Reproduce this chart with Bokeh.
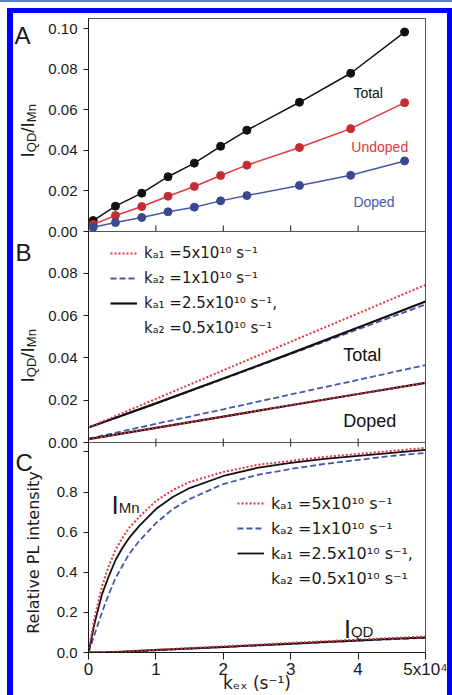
import math
from bokeh.plotting import figure
from bokeh.models import Range1d, FixedTicker, Label, Legend, LegendItem, PrintfTickFormatter
from bokeh.layouts import column, row
from bokeh.embed import file_html
from bokeh.resources import INLINE

# ---------------- data ----------------
# Panel A: measured points
kex_A = [0.07, 0.40, 0.79, 1.18, 1.57, 1.96, 2.35, 3.13, 3.89, 4.69]
total_A = [0.0054, 0.0125, 0.0189, 0.0270, 0.0337, 0.0420, 0.0499, 0.0637, 0.0780, 0.0983]
undoped_A = [0.0035, 0.0079, 0.0123, 0.0174, 0.0222, 0.0276, 0.0327, 0.0414, 0.0507, 0.0635]
doped_A = [0.0021, 0.0044, 0.0069, 0.0097, 0.0120, 0.0151, 0.0177, 0.0227, 0.0277, 0.0348]

# Panel B: simulated ratios
kex_B = [0, 1, 2, 3, 4, 5]
total_ka1_B = [0.0071, 0.0206, 0.0341, 0.0476, 0.0610, 0.0745]
total_ka2_B = [0.0071, 0.0184, 0.0300, 0.0418, 0.0535, 0.0652]
total_both_B = [0.0071, 0.0185, 0.0302, 0.0421, 0.0543, 0.0666]
doped_ka1_B = [0.0016, 0.0069, 0.0122, 0.0176, 0.0229, 0.0282]
doped_ka2_B = [0.0018, 0.0088, 0.0157, 0.0227, 0.0296, 0.0366]
doped_both_B = [0.0016, 0.0069, 0.0122, 0.0176, 0.0229, 0.0282]

# Panel C: relative PL intensity
kex_C = [0, 0.05, 0.1, 0.2, 0.3, 0.4, 0.5, 0.6, 0.75, 1.0, 1.25, 1.5, 2.0, 2.5, 3.0, 3.5, 4.0, 4.5, 5.0]
mn_ka1_C = [0, 0.10, 0.19, 0.33, 0.43, 0.51, 0.57, 0.62, 0.675, 0.755, 0.81, 0.85, 0.90, 0.935,
            0.955, 0.975, 0.99, 1.005, 1.02]
mn_ka2_C = [0, 0.05, 0.10, 0.20, 0.29, 0.37, 0.43, 0.49, 0.555, 0.645, 0.715, 0.765, 0.84, 0.885,
            0.915, 0.94, 0.96, 0.98, 0.995]
mn_both_C = [0, 0.08, 0.16, 0.29, 0.38, 0.46, 0.52, 0.57, 0.63, 0.715, 0.775, 0.82, 0.88, 0.92,
             0.945, 0.965, 0.98, 0.995, 1.01]
kex_QD = [0, 0.25, 0.5, 1.0, 1.5, 2.0, 2.5, 3.0, 3.5, 4.0, 4.5, 5.0]
qd_ka1_C = [0, 0.001, 0.005, 0.014, 0.022, 0.031, 0.039, 0.048, 0.056, 0.064, 0.072, 0.080]
qd_ka2_C = [0, 0.001, 0.004, 0.011, 0.019, 0.027, 0.035, 0.043, 0.051, 0.059, 0.066, 0.073]
qd_both_C = [0, 0.001, 0.004, 0.012, 0.020, 0.028, 0.036, 0.044, 0.052, 0.060, 0.068, 0.075]

# ticks and labels
x_ticks = [0, 1, 2, 3, 4, 5]
x_tick_labels = ["0", "1", "2", "3", "4", "5x10\u2074"]
yA_ticks = [0, 0.02, 0.04, 0.06, 0.08, 0.10]
yB_ticks = [0, 0.02, 0.04, 0.06, 0.08]
yC_ticks = [0, 0.2, 0.4, 0.6, 0.8, 1.0]
yC_tick_labels = ["0.0", "0.2", "0.4", "0.6", "0.8", ""]
legend_labels = ["k\u2090\u2081 =5x10\u00b9\u2070 s\u207b\u00b9",
                 "k\u2090\u2082 =1x10\u00b9\u2070 s\u207b\u00b9",
                 "k\u2090\u2081 =2.5x10\u00b9\u2070 s\u207b\u00b9,",
                 "k\u2090\u2082 =0.5x10\u00b9\u2070 s\u207b\u00b9"]
x_label = "k\u2091\u2093 (s\u207b\u00b9)"
yC_label = "Relative PL intensity"

# ---------------- styles ----------------
SANS = "Liberation Sans"
DEJA = "DejaVu Sans"
AX = "#1a1a1a"
RED = "#e3363e"
RED_M = "#c42c34"
BLUE = "#4658aa"
BLUE_M = "#3c4892"
BLACK = "#111111"

WID = {"I": 0.278, "Q": 0.778, "D": 0.722, "/": 0.278, "M": 0.833, "n": 0.556}


def tw(s, size):
    return sum(WID[c] for c in s) * size


xr = Range1d(0, 5)


def base_fig(height, y_end, y_ticks, min_top, min_bottom, x_axis, shift=None):
    kw = dict(width=404, height=height, x_range=xr, y_range=Range1d(0, y_end),
              output_backend="svg", toolbar_location=None,
              min_border_left=45, min_border_right=22,
              min_border_top=min_top, min_border_bottom=min_bottom)
    if not x_axis:
        kw["x_axis_location"] = None
    if shift:
        kw["styles"] = {"margin-top": f"{shift}px"}
    p = figure(**kw)
    p.grid.visible = False
    p.outline_line_color = "#555555"
    p.outline_line_width = 1
    p.border_fill_color = None
    p.background_fill_color = "white"
    ya = p.yaxis[0]
    ya.ticker = FixedTicker(ticks=y_ticks)
    ya.major_tick_out = 5
    ya.major_tick_in = 0
    ya.minor_tick_line_color = None
    ya.axis_line_color = AX
    ya.major_tick_line_color = AX
    ya.major_label_text_font = SANS
    ya.major_label_text_font_size = "15px"
    ya.major_label_text_color = AX
    ya.major_label_standoff = 6
    return p


def inner_ticks(p, y, length, up=True):
    p.ray(x=x_ticks[1:-1], y=y, length=length, length_units="screen",
          angle=(math.pi / 2 if up else -math.pi / 2), line_color=AX, line_width=1)


def horizontal_rich(p, pieces, x, y):
    off = 0
    for text, size, shift in pieces:
        p.add_layout(Label(x=x, y=y, x_offset=off, y_offset=-shift, text=text,
                           text_font=SANS, text_font_size=f"{size}px", text_color=AX,
                           text_align="left", text_baseline="alphabetic"))
        off += tw(text, size)


def text_label(p, x, y, text, color, size):
    p.add_layout(Label(x=x, y=y, text=text, text_font=SANS, text_font_size=f"{size}px",
                       text_color=color, text_baseline="alphabetic"))


# ---------------- left strip: panel letters and y titles ----------------
left = figure(width=30, height=682, x_range=Range1d(13, 43), y_range=Range1d(695, 13),
              output_backend="svg", toolbar_location=None, x_axis_location=None,
              y_axis_location=None, min_border=0)
left.grid.visible = False
left.outline_line_color = None
left.border_fill_color = None
left.background_fill_color = None

for letter, lx, ly in [("A", 14, 35), ("B", 15, 252), ("C", 15, 462)]:
    left.add_layout(Label(x=lx, y=ly, text=letter, text_font=SANS, text_font_size="24px",
                          text_color=AX, text_baseline="alphabetic"))

ylab_pieces = [("I", 19, 0), ("QD", 13, 4), ("/", 19, 0), ("I", 19, 0), ("Mn", 13, 4)]
for start in (157, 382):
    yy = start
    for text, size, shift in ylab_pieces:
        left.add_layout(Label(x=27 + shift, y=yy, text=text, angle=math.pi / 2,
                              text_font=SANS, text_font_size=f"{size}px", text_color=AX,
                              text_align="left", text_baseline="alphabetic"))
        yy -= tw(text, size)

left.add_layout(Label(x=33, y=552, text=yC_label, angle=math.pi / 2, text_font=DEJA,
                      text_font_size="16px", text_color=AX, text_align="center",
                      text_baseline="alphabetic"))

# ---------------- panel A ----------------
pA = base_fig(228, 0.105, yA_ticks, 5, 10, False)
pA.yaxis[0].formatter = PrintfTickFormatter(format="%.2f")
inner_ticks(pA, 0, 6, up=True)
pA.line(kex_A, total_A, line_color=BLACK, line_width=1.5)
pA.scatter(kex_A, total_A, size=8, fill_color=BLACK, line_color=BLACK)
pA.line(kex_A, undoped_A, line_color=RED, line_width=1.5)
pA.scatter(kex_A, undoped_A, size=8, fill_color=RED_M, line_color=RED_M)
pA.line(kex_A, doped_A, line_color=BLUE, line_width=1.5)
pA.scatter(kex_A, doped_A, size=8, fill_color=BLUE_M, line_color=BLUE_M)
text_label(pA, 3.93, 0.0681, "Total", BLACK, 14)
text_label(pA, 3.90, 0.0415, "Undoped", RED, 14)
text_label(pA, 3.93, 0.0144, "Doped", BLUE, 14)

# ---------------- panel B ----------------
yB_end = 0.0997
pB = base_fig(231, yB_end, yB_ticks, 10, 10, False, shift=-20)
pB.yaxis[0].formatter = PrintfTickFormatter(format="%.2f")
inner_ticks(pB, 0, 4, up=True)
rB2 = pB.line(kex_B, total_ka2_B, line_color=BLUE, line_width=1.8, line_dash="6 3")
pB.line(kex_B, doped_ka2_B, line_color=BLUE, line_width=1.8, line_dash="6 3")
rB3 = pB.line(kex_B, total_both_B, line_color=BLACK, line_width=2.2)
pB.line(kex_B, doped_both_B, line_color=BLACK, line_width=2.2)
rB1 = pB.line(kex_B, total_ka1_B, line_color=RED, line_width=2, line_dash="2 2")
pB.line(kex_B, doped_ka1_B, line_color=RED, line_width=2, line_dash="2 2")
rB4 = pB.line([], [], line_alpha=0)
legB = Legend(items=[LegendItem(label=legend_labels[0], renderers=[rB1]),
                     LegendItem(label=legend_labels[1], renderers=[rB2]),
                     LegendItem(label=legend_labels[2], renderers=[rB3]),
                     LegendItem(label=legend_labels[3], renderers=[rB4])],
              location=(22, 104), label_text_font=DEJA, label_text_font_size="15px",
              label_text_color=AX, glyph_width=27, glyph_height=20, label_height=20,
              spacing=5, padding=0, margin=0, label_standoff=7,
              border_line_alpha=0, background_fill_alpha=0)
pB.add_layout(legB)
text_label(pB, 3.78, 0.0414, "Total", BLACK, 18)
text_label(pB, 3.78, 0.0103, "Doped", BLACK, 18)

# ---------------- panel C ----------------
yC_end = 1.047
pC = base_fig(263, yC_end, yC_ticks, 10, 41, True, shift=-20)
pC.yaxis[0].major_label_overrides = {t: s for t, s in zip(yC_ticks, yC_tick_labels)}
inner_ticks(pC, yC_end, 4, up=False)
xa = pC.xaxis[0]
xa.ticker = FixedTicker(ticks=x_ticks)
xa.minor_tick_line_color = None
xa.axis_line_color = AX
xa.major_tick_line_color = AX
xa.major_tick_out = 7
xa.major_tick_in = 0
xa.major_label_overrides = {t: s for t, s in zip(x_ticks, x_tick_labels)}
xa.major_label_text_font = SANS
xa.major_label_text_font_size = "17px"
xa.major_label_text_color = AX
xa.major_label_standoff = 0
xa.axis_label = x_label
xa.axis_label_text_font = DEJA
xa.axis_label_text_font_size = "17px"
xa.axis_label_text_font_style = "normal"
xa.axis_label_text_color = AX
xa.axis_label_standoff = -9

rC2 = pC.line(kex_C, mn_ka2_C, line_color=BLUE, line_width=1.8, line_dash="6 3")
pC.line(kex_QD, qd_ka2_C, line_color=BLUE, line_width=1.8, line_dash="6 3")
rC3 = pC.line(kex_C, mn_both_C, line_color=BLACK, line_width=1.8)
pC.line(kex_QD, qd_both_C, line_color=BLACK, line_width=2)
rC1 = pC.line(kex_C, mn_ka1_C, line_color=RED, line_width=2, line_dash="2 2")
pC.line(kex_QD, qd_ka1_C, line_color=RED, line_width=2, line_dash="2 2")
rC4 = pC.line([], [], line_alpha=0)
legC = Legend(items=[LegendItem(label=legend_labels[0], renderers=[rC1]),
                     LegendItem(label=legend_labels[1], renderers=[rC2]),
                     LegendItem(label=legend_labels[2], renderers=[rC3]),
                     LegendItem(label=legend_labels[3], renderers=[rC4])],
              location=(149, 64), label_text_font=DEJA, label_text_font_size="16px",
              label_text_color=AX, glyph_width=27, glyph_height=20, label_height=20,
              spacing=5, padding=0, margin=0, label_standoff=7,
              border_line_alpha=0, background_fill_alpha=0)
pC.add_layout(legC)
horizontal_rich(pC, [("I", 26, 0), ("Mn", 15, 2)], 0.34, 0.735)
horizontal_rich(pC, [("I", 25, 0), ("QD", 15, 2)], 3.79, 0.117)

main = column(pA, pB, pC, spacing=0)
inner = row(left, main, spacing=0,
            styles={"border-left": "6px solid #0000ff", "border-top": "5px solid #0000ff",
                    "border-right": "5px solid #0000ff", "margin-left": "7px",
                    "margin-top": "6px"})
root = column(inner, spacing=0, styles={"border-top": "2px solid #5580bb"})

open("out.html", "w").write(file_html(root, INLINE))
